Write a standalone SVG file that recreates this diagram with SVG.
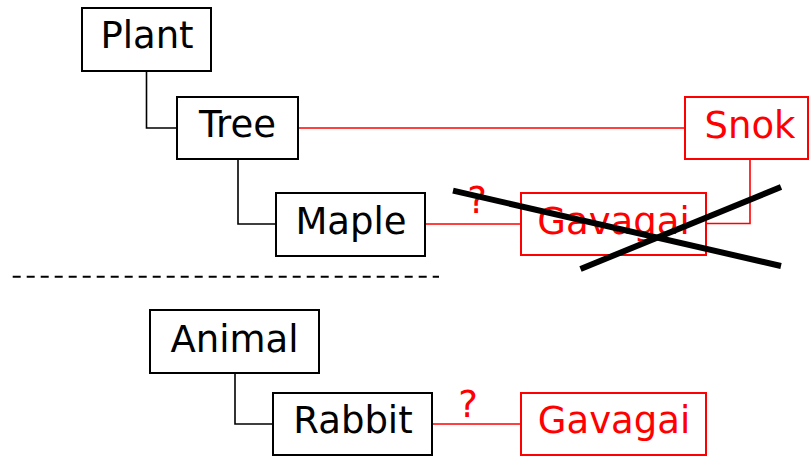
<svg xmlns="http://www.w3.org/2000/svg" width="809" height="456" viewBox="0 0 809 456">
<style>
  .box{fill:#fff;stroke:#000;stroke-width:2}
  .rbox{fill:#fff;stroke:#f00;stroke-width:2}
  .t{font-family:"DejaVu Sans",sans-serif;font-size:37px;text-anchor:middle;fill:#000}
  .rt{font-family:"DejaVu Sans",sans-serif;font-size:37px;text-anchor:middle;fill:#f00}
  .c{fill:none;stroke:#000;stroke-width:1.6}
  .rc{fill:none;stroke:#f00;stroke-width:1.6}
</style>
<rect width="809" height="456" fill="#fff"/>
<g id="connectors">
  <path class="c" d="M146.5 71 V128 H177"/>
  <path class="c" d="M238 159 V224 H276"/>
  <path class="c" d="M235 373 V424 H273"/>
  <path class="rc" d="M298 128 H685"/>
  <path class="rc" d="M425 224 H521"/>
  <path class="rc" d="M750 159 V223.5 H706"/>
  <path class="rc" d="M432 424 H521"/>
</g>
<g id="plant"><rect class="box" x="82" y="8" width="129" height="63"/><text class="t" x="147" y="48">Plant</text></g>
<g id="tree"><rect class="box" x="177" y="97" width="121" height="62"/><text class="t" x="237.5" y="137">Tree</text></g>
<g id="maple"><rect class="box" x="276" y="193" width="149" height="63"/><text class="t" x="351" y="234">Maple</text></g>
<g id="snok"><rect class="rbox" x="685" y="97" width="123" height="62"/><text class="rt" x="750" y="137.5">Snok</text></g>
<g id="gavagai1"><rect class="rbox" x="521" y="193" width="185" height="62"/><text class="rt" x="613.5" y="234">Gavagai</text></g>
<g id="animal"><rect class="box" x="150" y="310" width="169" height="63"/><text class="t" x="234.5" y="351.5">Animal</text></g>
<g id="rabbit"><rect class="box" x="273" y="393" width="159" height="62"/><text class="t" x="353" y="433">Rabbit</text></g>
<g id="gavagai2"><rect class="rbox" x="521" y="393" width="185" height="62"/><text class="rt" x="614" y="433">Gavagai</text></g>
<g id="labels">
  <text class="rt" x="477" y="213">?</text>
  <text class="rt" x="468" y="417">?</text>
</g>
<g id="cross">
  <line x1="453" y1="190.7" x2="781" y2="266" stroke="#000" stroke-width="6"/>
  <line x1="580.5" y1="269" x2="781" y2="187" stroke="#000" stroke-width="6"/>
</g>
<line x1="12.7" y1="276.7" x2="439" y2="276.7" stroke="#000" stroke-width="2" stroke-dasharray="8 6"/>
</svg>
